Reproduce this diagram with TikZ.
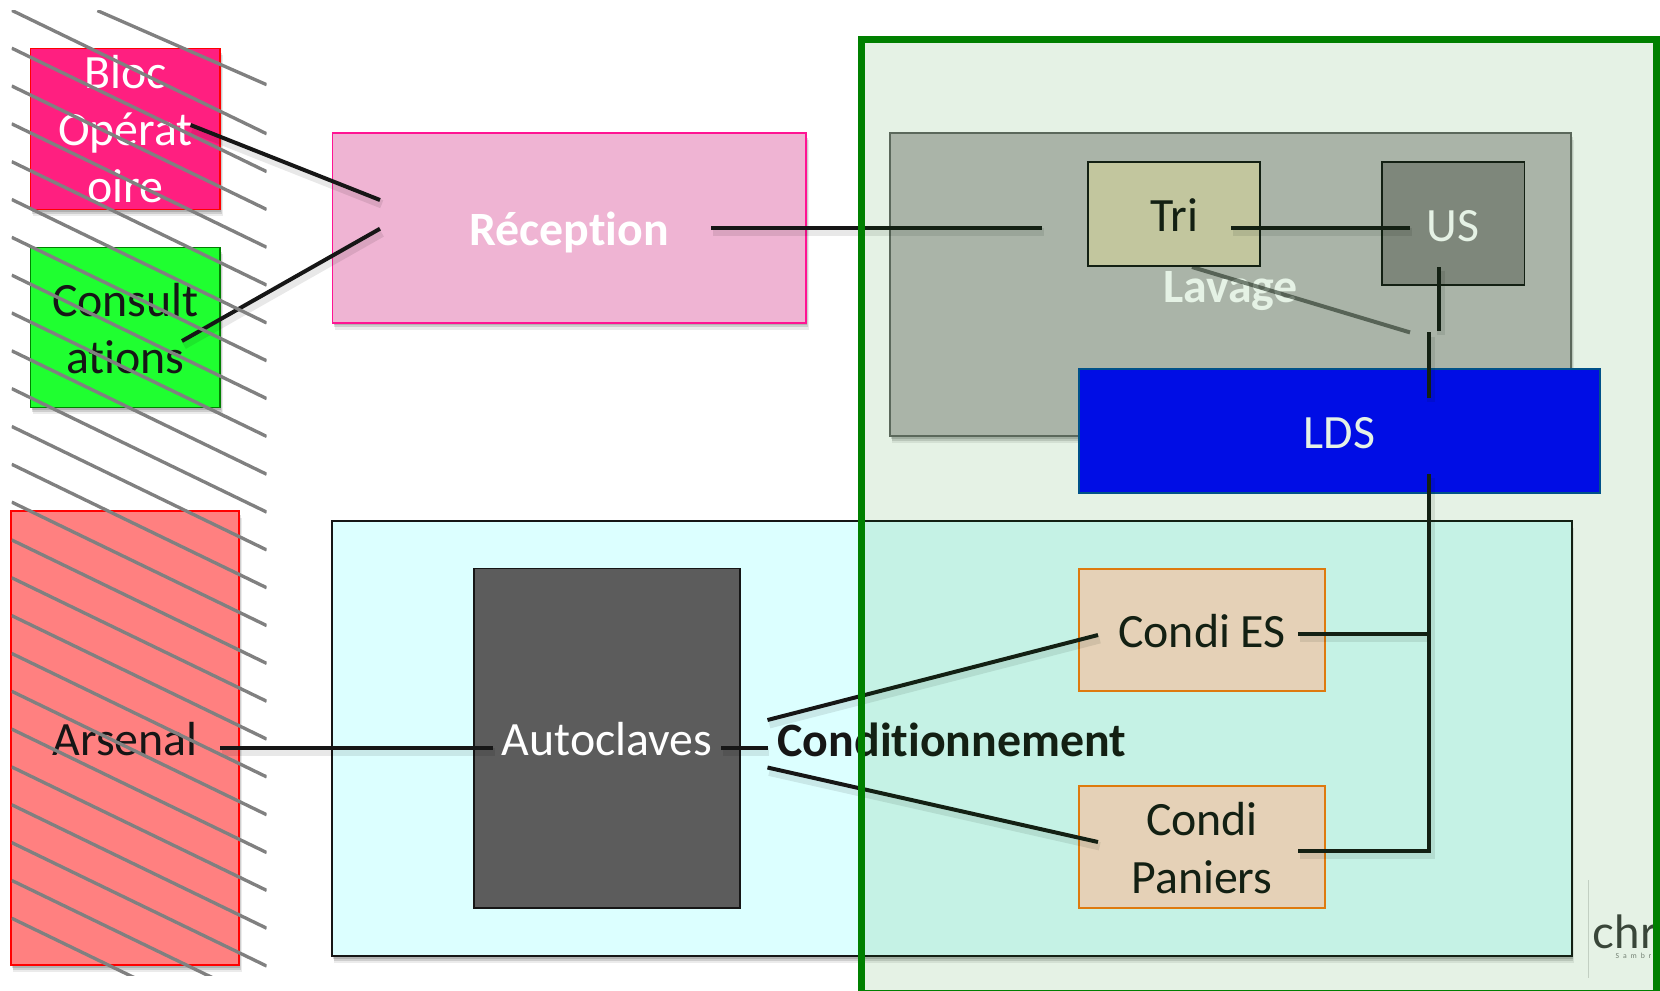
\documentclass[tikz,border=0pt]{standalone}
\usepackage{fontspec}
\setmainfont{Carlito}[Ligatures=NoCommon]
\newfontfamily\logofont{Lato}
\usepackage{xcolor}
\usetikzlibrary{shadows}
\definecolor{blocfill}{HTML}{FF1F80}
\definecolor{consultfill}{HTML}{1FFF30}
\definecolor{arsenalfill}{HTML}{FF8080}
\definecolor{recepfill}{HTML}{EFB4D3}
\definecolor{recepline}{HTML}{FF1493}
\definecolor{lavagefill}{HTML}{BEBBBC}
\definecolor{trifill}{HTML}{D9CFB1}
\definecolor{usfill}{HTML}{8D8889}
\definecolor{condfill}{HTML}{DCFFFF}
\definecolor{condiline}{HTML}{F87A10}
\definecolor{condifill}{HTML}{FFDBCC}
\definecolor{inkcol}{HTML}{161616}
\definecolor{zonegreen}{HTML}{008000}
\tikzset{
	txt/.style={font=\fontsize{13.6}{16.3}\selectfont, text=inkcol, align=center},
	boldtxt/.style={font=\fontsize{13.6}{16.3}\selectfont\bfseries},
	oneline/.style={text height=10pt, text depth=0pt},
	softshadow/.style={
		drop shadow={shadow xshift=0.7pt, shadow yshift=-1.9pt, opacity=0.08, fill=black},
		drop shadow={shadow xshift=0.5pt, shadow yshift=-1.3pt, opacity=0.12, fill=black},
		drop shadow={shadow xshift=0.3pt, shadow yshift=-0.7pt, opacity=0.14, fill=black}},
	box/.style={rectangle, draw, inner sep=0pt, line width=0.45pt, txt},
	conn/.style={draw=inkcol, line width=1.13pt,
		preaction={draw=black, draw opacity=0.09, line width=2.4pt, transform canvas={shift={(0.5pt,-1.2pt)}}}},
	hatchline/.style={draw=gray, line width=0.95pt}
}

\begin{document}
\begin{tikzpicture}[x=0.01cm, y=-0.01cm]
\useasboundingbox (0,0) rectangle (1660,990);

% left services
\node[box, softshadow, draw=red, fill=blocfill, minimum width=1.893cm, minimum height=1.609cm,
	label={[txt, text=white]center:Bloc\\Opérat\\oire}] (bloc) at (125.4,129) {};
\node[box, softshadow, draw=green!50!black, fill=consultfill, minimum width=1.893cm, minimum height=1.599cm,
	label={[txt, yshift=-0.2pt]center:Consult\\ations}] (consult) at (125.4,327.6) {};
\node[box, oneline, softshadow, draw=red, fill=arsenalfill, line width=0.55pt, minimum width=2.28cm, minimum height=4.54cm] (arsenal) at (125,738) {Arsenal};

% main rooms
\node[box, oneline, softshadow, draw=recepline, fill=recepfill, minimum width=4.733cm, minimum height=1.895cm, boldtxt, text=white] (recep) at (569.3,228) {Réception};
\node[box, oneline, softshadow, draw=black!60, fill=lavagefill, minimum width=6.81cm, minimum height=3.03cm, boldtxt, text=white] (lavage) at (1230.5,284.5) {Lavage};
\node[box, oneline, softshadow, draw=inkcol, fill=condfill, line width=0.6pt, minimum width=12.39cm, minimum height=4.35cm, boldtxt] (cond) at (951.8,738.5) {Conditionnement};

\node[box, oneline, draw=inkcol, fill=trifill, minimum width=1.72cm, minimum height=1.04cm] (tri) at (1174,214) {Tri};
\node[box, oneline, draw=inkcol, fill=usfill, text=white, minimum width=1.425cm, minimum height=1.23cm] (us) at (1453,223.5) {US};
\node[box, oneline, draw=blue!50!cyan!60!black, fill=blue, text=white, minimum width=5.21cm, minimum height=1.235cm] (lds) at (1339.5,431) {LDS};
\node[box, oneline, draw=inkcol, fill=black!64, text=white, minimum width=2.66cm, minimum height=3.395cm] (autoclave) at (607,738.2) {Autoclaves};
\node[box, oneline, draw=condiline, fill=condifill, line width=0.55pt, minimum width=2.465cm, minimum height=1.225cm] (condies) at (1202,630) {Condi ES};
\node[box, draw=condiline, fill=condifill, line width=0.55pt, minimum width=2.465cm, minimum height=1.225cm,
	label={[txt, yshift=-0.3pt]center:Condi\\Paniers}] (condipan) at (1202,847) {};

% free ends of the links
\coordinate (bloc1) at (190.6,125);
\coordinate (consult1) at (182,341);
\coordinate (recep1) at (380,200);
\coordinate (recep2) at (380,228.7);
\coordinate (recep3) at (711,227.6);
\coordinate (tri1) at (1042,227.6);
\coordinate (tri2) at (1231,227.6);
\coordinate (us1) at (1410,227.6);
\coordinate (us2) at (1439,267);
\coordinate (us3) at (1439,331);
\coordinate (lds1) at (1429,332.4);
\coordinate (lds2) at (1429,398);
\coordinate (lds3) at (1429,474);
\coordinate (es1) at (1298,634);
\coordinate (es2) at (1429,634);
\coordinate (pan1) at (1298,851);
\coordinate (pan2) at (1429,851);
\coordinate (ars1) at (220,747.5);
\coordinate (auto1) at (493,747.5);
\coordinate (auto2) at (721,747.5);
\coordinate (auto3) at (767.5,747.5);
\coordinate (auto4) at (767.5,720);
\coordinate (auto5) at (767.5,767.5);
\coordinate (es3) at (1098,635);
\coordinate (pan3) at (1098,842);
\coordinate (tri3) at (1192,267);
\coordinate (us4) at (1410,332.4);

\foreach \from/\to in {bloc1/recep1,consult1/recep2,recep3/tri1,tri2/us1,us2/us3,lds1/lds2,es1/es2,ars1/auto1,auto2/auto3,auto4/es3,auto5/pan3}
{
	\draw[conn] (\from) -- (\to);
}
\draw[conn] (lds3) -- (pan2) -- (pan1);
\draw[draw=inkcol, draw opacity=0.55, line width=1.13pt] (tri3) -- (us4);

% logo
\draw[black!15, line width=0.2pt] (1588,880) -- (1588,978);
\begin{scope}
\clip (1590,880) rectangle (1652,978);
\node[inner sep=0pt, anchor=base west, text=black!75, font=\logofont\fontsize{13}{13}\selectfont] (logo) at (1592,948) {chr};
\node[inner sep=0pt, anchor=base west, text=black!50, font=\fontsize{2.2}{2.2}\selectfont\addfontfeature{LetterSpace=50}] (logosub) at (1615,958) {Sambr};
\end{scope}

% hatching of the outer zone
\begin{scope}
\clip (11.7,10) rectangle (266.7,975);
\draw[hatchline] (97.4,10.6) -- (266.7,84.7);
\foreach \k in {0,...,24}
{
	\draw[hatchline] (11.7,{10.3+37.83*\k}) -- ++(255,123.5);
}
\end{scope}

% green zone over the rest
\node[rectangle, inner sep=0pt, draw=zonegreen, line width=2.08pt, fill=zonegreen, fill opacity=0.1, draw opacity=1, minimum width=7.94cm, minimum height=9.535cm] (zone) at (1259,516.75) {};
\end{tikzpicture}
\end{document}
